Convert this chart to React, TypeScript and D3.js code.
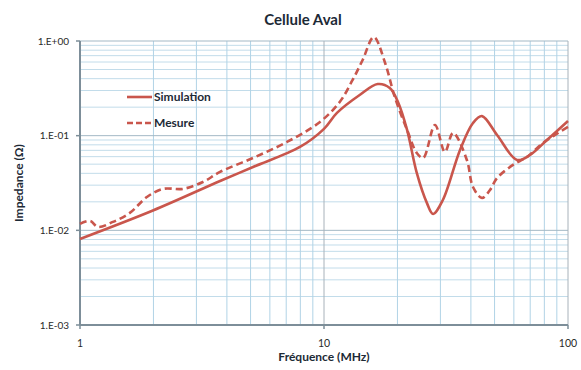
import React from "react";
import * as d3 from "d3";

const TITLE = "Cellule Aval";
const X_LABEL = "Fréquence (MHz)";
const Y_LABEL = "Impedance (Ω)";
const SERIES_NAMES = ["Simulation", "Mesure"];

const X_TICKS = [1, 10, 100];
const X_TICK_LABELS = ["1", "10", "100"];
const Y_TICKS = [0.001, 0.01, 0.1, 1];
const Y_TICK_LABELS = ["1.E-03", "1.E-02", "1.E-01", "1.E+00"];

const simFreq = [1.0, 1.99, 3.75, 5.12, 7.97, 10.0, 11.3, 14.0, 16.6, 18.6, 20.1, 21.9, 24.0, 26.4, 28.0, 30.7, 36.1, 40.8, 44.4, 51.2, 61.8, 69.9, 82.0, 100];
const simZ = [0.00811, 0.0162, 0.0332, 0.0467, 0.076, 0.118, 0.174, 0.269, 0.351, 0.319, 0.227, 0.115, 0.0404, 0.0195, 0.0149, 0.0209, 0.0706, 0.136, 0.161, 0.1017, 0.0554, 0.0625, 0.0901, 0.143];

const mesFreq = [1.0, 1.1, 1.185, 1.365, 1.6, 1.88, 2.19, 2.64, 3.19, 3.75, 5.12, 7.05, 9.63, 11.6, 13.1, 14.4, 16.0, 17.8, 19.5, 21.9, 24.0, 25.5, 28.5, 31.3, 33.8, 38.5, 40.8, 44.4, 47.9, 51.2, 59.5, 67.9, 79.0, 100];
const mesZ = [0.0117, 0.01257, 0.01086, 0.01227, 0.01528, 0.0225, 0.0274, 0.0274, 0.0324, 0.0414, 0.0582, 0.0858, 0.1396, 0.227, 0.388, 0.63, 1.1, 0.586, 0.256, 0.115, 0.0657, 0.0582, 0.1297, 0.0673, 0.107, 0.0554, 0.0287, 0.022, 0.0267, 0.0357, 0.0491, 0.0596, 0.0838, 0.1236];

const W = 581;
const H = 370;
const LEFT = 80;
const RIGHT = 568;
const TOP = 41;
const BOTTOM = 325;
const RED = "#c9564c";
const FONT = "Lato, 'Open Sans', sans-serif";

export default function App() {
  const x = d3.scaleLog().domain([1, 100]).range([LEFT, RIGHT]);
  const y = d3.scaleLog().domain([0.001, 1]).range([BOTTOM, TOP]);

  const minorX: number[] = [];
  for (const dec of [1, 10]) for (let k = 2; k <= 9; k++) minorX.push(dec * k);
  const minorY: number[] = [];
  for (const dec of [0.001, 0.01, 0.1]) for (let k = 2; k <= 9; k++) minorY.push(dec * k);

  const line = d3
    .line<[number, number]>()
    .x((d) => x(d[0]))
    .y((d) => y(d[1]))
    .curve(d3.curveCatmullRom.alpha(0.5));

  const simPts = simFreq.map((f, i) => [f, simZ[i]] as [number, number]);
  const mesPts = mesFreq.map((f, i) => [f, mesZ[i]] as [number, number]);

  return (
    <svg width={W} height={H} style={{ position: "absolute", left: 0, top: 0, background: "#fff" }}>
      <text x={303} y={25} textAnchor="middle" fontFamily={FONT} fontWeight="bold" fontSize={15} fill="#1d2a36">
        {TITLE}
      </text>
      {/* grid */}
      {minorY.map((v) => (
        <line key={"hy" + v} x1={LEFT} x2={RIGHT} y1={y(v)} y2={y(v)} stroke="#c2dcea" strokeWidth={1} />
      ))}
      {minorX.map((v) => (
        <line key={"vx" + v} x1={x(v)} x2={x(v)} y1={TOP} y2={BOTTOM} stroke="#b1d3e6" strokeWidth={1} />
      ))}
      {Y_TICKS.slice(1).map((v) => (
        <line key={"hmy" + v} x1={LEFT} x2={RIGHT} y1={y(v)} y2={y(v)} stroke="#a3b8c5" strokeWidth={1} />
      ))}
      {X_TICKS.slice(1).map((v) => (
        <line key={"vmx" + v} x1={x(v)} x2={x(v)} y1={TOP} y2={BOTTOM} stroke="#a8b2ba" strokeWidth={1} />
      ))}
      {/* axes */}
      <line x1={LEFT} x2={LEFT} y1={TOP} y2={BOTTOM} stroke="#7d8e99" strokeWidth={2} />
      <line x1={LEFT} x2={RIGHT} y1={BOTTOM} y2={BOTTOM} stroke="#7d8e99" strokeWidth={2} />
      {Y_TICKS.map((v, i) => (
        <g key={"yt" + v}>
          <line x1={LEFT - 4} x2={LEFT} y1={y(v)} y2={y(v)} stroke="#7d8e99" strokeWidth={1.5} />
          <text x={LEFT - 11} y={y(v) + 3.5} textAnchor="end" fontFamily={FONT} fontSize={10} fill="#2a2a2a">
            {Y_TICK_LABELS[i]}
          </text>
        </g>
      ))}
      {X_TICKS.map((v, i) => (
        <g key={"xt" + v}>
          <line x1={x(v)} x2={x(v)} y1={BOTTOM} y2={BOTTOM + 4} stroke="#7d8e99" strokeWidth={1.5} />
          <text x={x(v)} y={BOTTOM + 22} textAnchor="middle" fontFamily={FONT} fontSize={10.5} fill="#2a2a2a">
            {X_TICK_LABELS[i]}
          </text>
        </g>
      ))}
      <text x={(LEFT + RIGHT) / 2} y={361} textAnchor="middle" fontFamily={FONT} fontWeight="bold" fontSize={12} fill="#1d2a36">
        {X_LABEL}
      </text>
      <text
        transform={`translate(23, ${(TOP + BOTTOM) / 2}) rotate(-90)`}
        textAnchor="middle"
        fontFamily={FONT}
        fontWeight="bold"
        fontSize={12}
        fill="#1d2a36"
      >
        {Y_LABEL}
      </text>
      {/* series */}
      <path d={line(simPts) || ""} fill="none" stroke={RED} strokeWidth={2.6} strokeLinejoin="round" />
      <path d={line(mesPts) || ""} fill="none" stroke={RED} strokeWidth={2.6} strokeDasharray="7,4" />
      {/* legend */}
      <line x1={127} x2={152} y1={97} y2={97} stroke={RED} strokeWidth={2.6} />
      <text x={154} y={101} fontFamily={FONT} fontWeight="bold" fontSize={12} fill="#1d2a36">
        {SERIES_NAMES[0]}
      </text>
      <line x1={127} x2={152} y1={123} y2={123} stroke={RED} strokeWidth={2.6} strokeDasharray="6,3" />
      <text x={154} y={127} fontFamily={FONT} fontWeight="bold" fontSize={12} fill="#1d2a36">
        {SERIES_NAMES[1]}
      </text>
    </svg>
  );
}
